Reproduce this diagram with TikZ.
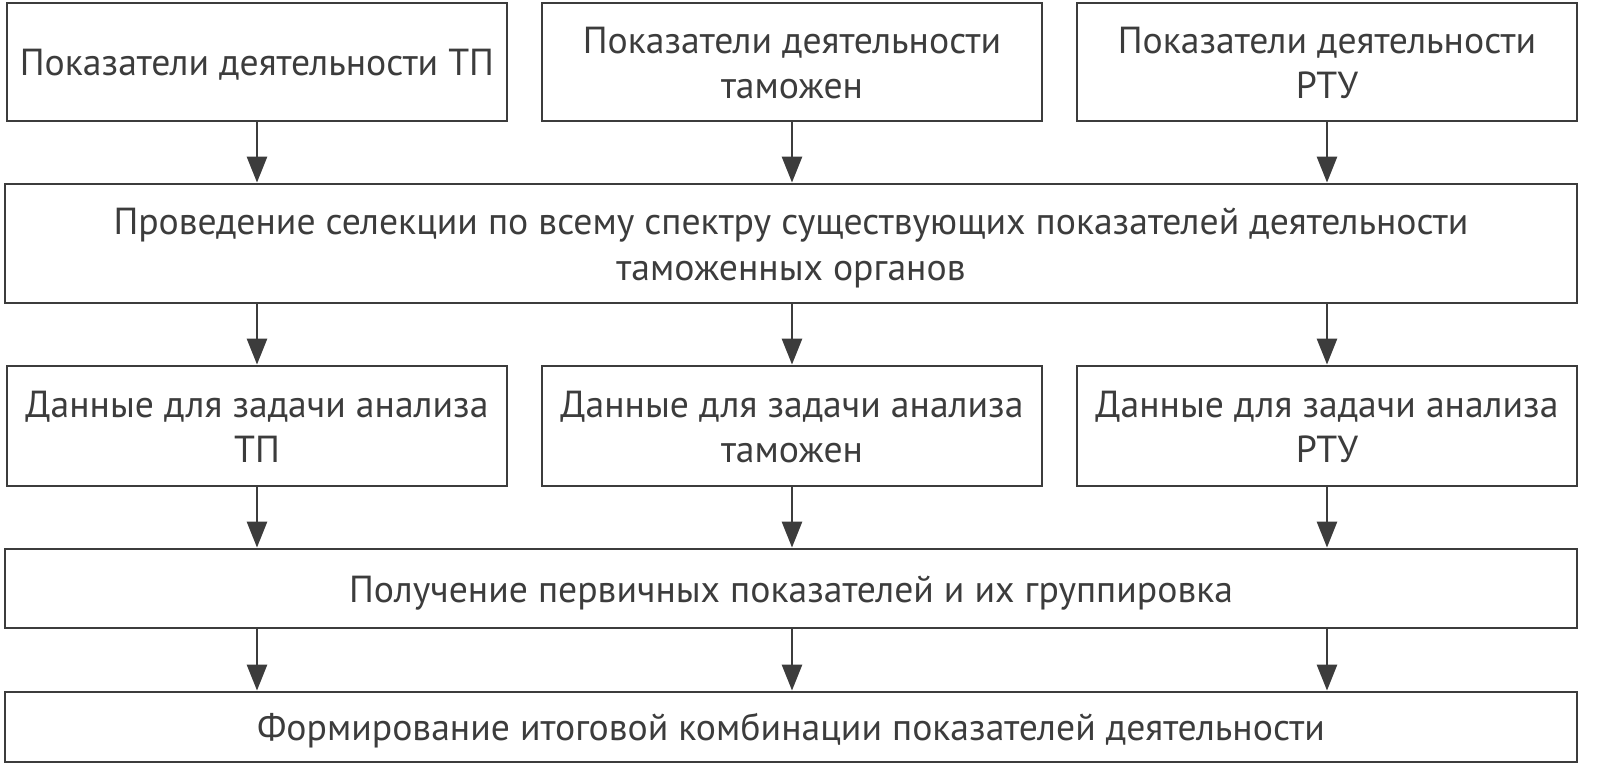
\documentclass[tikz,border=0pt]{standalone}
\usepackage{fontspec}
\setmainfont{PT Sans}
\usetikzlibrary{arrows.meta}
\definecolor{ink}{HTML}{3C3C3C}
% text sits a little low in the boxes
\newcommand{\lowtext}[1]{\raisebox{-3.4pt}[\height][\depth]{\begin{tabular}{@{}c@{}}#1\end{tabular}}}

\begin{document}
\begin{tikzpicture}[
	box/.style={draw=ink,line width=2pt,text=ink,inner sep=0pt,
		font=\fontsize{26.8}{32.5}\selectfont},
	colbox/.style={box,minimum width=12.5cm},
	widebox/.style={box,minimum width=39.3cm},
	flow/.style={draw=ink,line width=2pt,-{Triangle[length=0.65cm,width=0.5cm]}}
	]
	\useasboundingbox (0,0) rectangle (40.05,-19.125);
	% first row
	\node[colbox,minimum height=2.95cm] (pokTP) at (6.425,-1.55) {\lowtext{Показатели деятельности ТП}};
	\node[colbox,minimum height=2.95cm] (pokTam) at (19.8,-1.55) {\lowtext{Показатели деятельности\\таможен}};
	\node[colbox,minimum height=2.95cm] (pokRTU) at (33.175,-1.55) {\lowtext{Показатели деятельности\\РТУ}};
	% selection
	\node[widebox,minimum height=2.975cm] (selek) at (19.775,-6.0875) {\lowtext{Проведение селекции по всему спектру существующих показателей деятельности\\таможенных органов}};
	% data
	\node[colbox,minimum height=3cm] (datTP) at (6.425,-10.65) {\lowtext{Данные для задачи анализа\\ТП}};
	\node[colbox,minimum height=3cm] (datTam) at (19.8,-10.65) {\lowtext{Данные для задачи анализа\\таможен}};
	\node[colbox,minimum height=3cm] (datRTU) at (33.175,-10.65) {\lowtext{Данные для задачи анализа\\РТУ}};
	% grouping and result
	\node[widebox,minimum height=1.975cm] (grupp) at (19.775,-14.7125) {\lowtext{Получение первичных показателей и их группировка}};
	\node[widebox,minimum height=1.75cm] (itog) at (19.775,-18.175) {\lowtext{Формирование итоговой комбинации показателей деятельности}};
	% arrows
	\draw[flow] (pokTP) -- (pokTP |- selek.north);
	\draw[flow] (pokTam) -- (pokTam |- selek.north);
	\draw[flow] (pokRTU) -- (pokRTU |- selek.north);
	\draw[flow] (datTP |- selek.south) -- (datTP);
	\draw[flow] (datTam |- selek.south) -- (datTam);
	\draw[flow] (datRTU |- selek.south) -- (datRTU);
	\draw[flow] (datTP) -- (datTP |- grupp.north);
	\draw[flow] (datTam) -- (datTam |- grupp.north);
	\draw[flow] (datRTU) -- (datRTU |- grupp.north);
	\draw[flow] (datTP |- grupp.south) -- (datTP |- itog.north);
	\draw[flow] (datTam |- grupp.south) -- (datTam |- itog.north);
	\draw[flow] (datRTU |- grupp.south) -- (datRTU |- itog.north);
\end{tikzpicture}
\end{document}
